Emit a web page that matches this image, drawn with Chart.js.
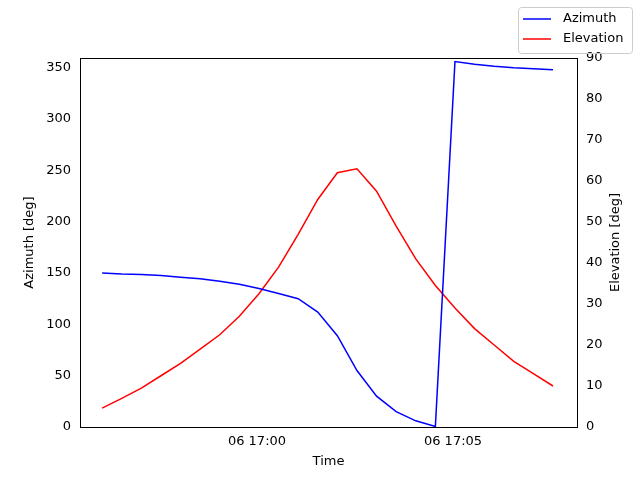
<!DOCTYPE html>
<html>
<head>
<script src="https://cdn.jsdelivr.net/npm/chart.js@4"></script>
<style>body{margin:0;background:#fff}#wrap{width:640px;height:480px}</style>
</head>
<body>
<div id="wrap"><canvas id="c" width="640" height="480"></canvas></div>
<script>
// minutes relative to 06 17:00
const minutes = [-3.95,-3.45,-2.95,-2.45,-1.95,-1.45,-0.95,-0.45,0.05,0.55,1.05,1.55,2.05,2.55,3.05,3.55,4.05,4.55,5.05,5.55,6.05,6.55,7.05,7.55];
const azimuth = [150,149,148.5,147.5,146,144.5,142,139,135,130,125,112,89,55,30,15,6,0.5,356,353.5,351.5,350,349,348];
const elevation = [4.6,7,9.5,12.5,15.5,19,22.5,27,32.5,39,47,55.5,62,63,57.5,49,41,34.5,29,24,20,16,13,10];
const azTicks = [0,50,100,150,200,250,300,350];
const elTicks = [0,10,20,30,40,50,60,70,80,90];
const timeTicks = [0,5];
const timeLabels = ['06 17:00','06 17:05'];

Chart.defaults.font.family = 'DejaVu Sans';
Chart.defaults.font.size = 13;
Chart.defaults.color = '#000';

const decor = {
  id: 'decor',
  afterDraw(chart) {
    const a = chart.chartArea, ctx = chart.ctx;
    ctx.save();
    ctx.strokeStyle = '#000'; ctx.lineWidth = 1;
    ctx.beginPath(); ctx.moveTo(a.left, a.top + 0.5); ctx.lineTo(a.right, a.top + 0.5); ctx.stroke();
    // axis titles
    ctx.font = '13px "DejaVu Sans"'; ctx.fillStyle = '#000';
    ctx.textAlign = 'center'; ctx.textBaseline = 'middle';
    ctx.fillText('Time', (a.left + a.right) / 2, 462);
    ctx.save(); ctx.translate(30, (a.top + a.bottom) / 2); ctx.rotate(-Math.PI / 2);
    ctx.fillText('Azimuth [deg]', 0, 0); ctx.restore();
    ctx.save(); ctx.translate(616, (a.top + a.bottom) / 2); ctx.rotate(-Math.PI / 2);
    ctx.fillText('Elevation [deg]', 0, 0); ctx.restore();
    // legend
    ctx.strokeStyle = '#ccc';
    ctx.beginPath(); ctx.roundRect(518.5, 7.5, 114, 46, 3); ctx.stroke();
    ctx.textAlign = 'left';
    chart.data.datasets.forEach((d, i) => {
      const y = 19 + i * 20;
      ctx.strokeStyle = d.borderColor; ctx.lineWidth = 1.5;
      ctx.beginPath(); ctx.moveTo(523, y); ctx.lineTo(551, y); ctx.stroke();
      ctx.fillText(d.label, 563, y);
    });
    ctx.restore();
  }
};

new Chart(document.getElementById('c'), {
  type: 'line',
  plugins: [decor],
  data: {
    datasets: [
      {label: 'Azimuth', data: minutes.map((m, i) => ({x: m, y: azimuth[i]})), borderColor: 'blue', yAxisID: 'y', borderWidth: 1.5, pointRadius: 0, tension: 0},
      {label: 'Elevation', data: minutes.map((m, i) => ({x: m, y: elevation[i]})), borderColor: 'red', yAxisID: 'y2', borderWidth: 1.5, pointRadius: 0, tension: 0}
    ]
  },
  options: {
    responsive: false,
    animation: false,
    layout: {padding: {top: 58, left: 0, right: 0, bottom: 0}},
    plugins: {legend: {display: false}, tooltip: {enabled: false}},
    scales: {
      x: {
        type: 'linear', min: -4.515, max: 8.163,
        afterBuildTicks: ax => { ax.ticks = timeTicks.map(v => ({value: v})); },
        afterFit: ax => { ax.height = 53; },
        ticks: {callback: v => timeLabels[timeTicks.indexOf(v)], maxRotation: 0, padding: 2},
        grid: {display: false, tickLength: 5},
        border: {color: '#000'}
      },
      y: {
        position: 'left', min: 0, max: 359.5,
        afterBuildTicks: ax => { ax.ticks = azTicks.map(v => ({value: v})); },
        afterFit: ax => { ax.width = 80; },
        ticks: {padding: 4},
        grid: {display: false, tickLength: 5},
        border: {color: '#000'}
      },
      y2: {
        position: 'right', min: 0, max: 90,
        afterBuildTicks: ax => { ax.ticks = elTicks.map(v => ({value: v})); },
        afterFit: ax => { ax.width = 63; },
        ticks: {padding: 4},
        grid: {display: false, tickLength: 5},
        border: {color: '#000'}
      }
    }
  }
});
</script>
</body>
</html>
